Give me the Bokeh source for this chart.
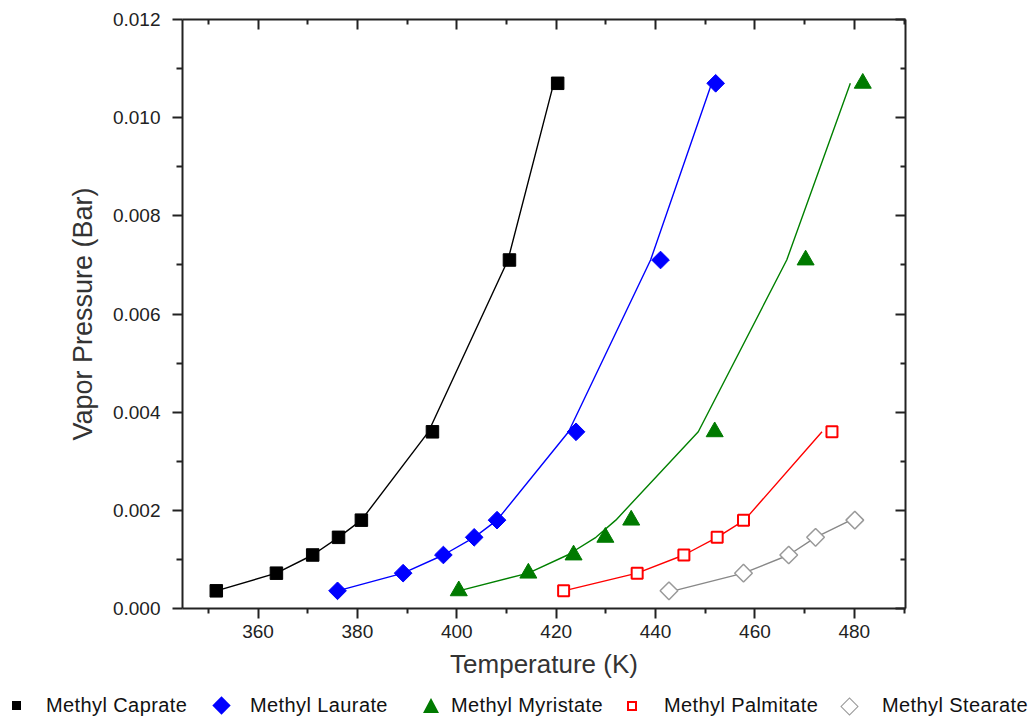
import math
from bokeh.plotting import figure
from bokeh.layouts import column
from bokeh.models import LinearAxis, Range1d, FixedTicker, CustomJSTickFormatter, Div
from bokeh.embed import file_html
from bokeh.resources import INLINE

# Data (Temperature K, Vapor pressure bar)
caprate_T = [351.6, 363.7, 371.0, 376.2, 380.8, 395.1, 410.6, 420.3]
caprate_P = [0.00036, 0.00072, 0.00109, 0.00145, 0.00180, 0.00360, 0.00710, 0.01070]
caprate_fit_T = [351.6, 363.7, 371.0, 376.2, 380.8, 394.3, 410.3, 419.5]

laurate_T = [376.0, 389.2, 397.3, 403.5, 408.1, 424.0, 441.0, 452.1]
laurate_P = [0.00036, 0.00072, 0.00109, 0.00145, 0.00180, 0.00360, 0.00710, 0.01070]
laurate_fit_T = [376.0, 389.2, 397.3, 403.5, 408.1, 422.5, 439.0, 451.3]

myristate_T = [400.4, 414.4, 423.5, 429.9, 435.1, 451.9, 470.2, 481.7]
myristate_P = [0.00036, 0.00072, 0.00109, 0.00145, 0.00180, 0.00360, 0.00710, 0.01070]
myristate_fit_T = [400.4, 414.4, 422.3, 428.0, 432.0, 448.6, 466.4, 479.2]

palmitate_T = [421.5, 436.3, 445.7, 452.4, 457.7, 475.5]
palmitate_P = [0.00036, 0.00072, 0.00109, 0.00145, 0.00180, 0.00360]
palmitate_fit_T = [421.5, 436.3, 445.7, 452.4, 457.9, 473.5]

stearate_T = [442.7, 457.7, 466.8, 472.2, 480.1]
stearate_P = [0.00036, 0.00072, 0.00109, 0.00145, 0.00180]
stearate_fit_T = [443.6, 457.7, 466.8, 472.2, 479.3]

series_names = ["Methyl Caprate", "Methyl Laurate", "Methyl Myristate",
                "Methyl Palmitate", "Methyl Stearate"]

x_ticks = [360, 380, 400, 420, 440, 460, 480]
y_ticks = [0.000, 0.002, 0.004, 0.006, 0.008, 0.010, 0.012]

FONT = "Liberation Sans"

p = figure(frame_width=723, frame_height=589, output_backend="svg", toolbar_location=None,
           x_range=Range1d(344.8, 490.3), y_range=Range1d(0, 0.012),
           min_border_left=182, min_border_right=127, min_border_top=19,
           min_border_bottom=80, x_axis_location=None, y_axis_location=None)
p.xgrid.visible = False
p.ygrid.visible = False
p.outline_line_color = None
p.background_fill_color = "white"
p.border_fill_color = "white"

def style_axis(ax, labels=True):
    ax.axis_line_width = 2
    ax.axis_line_color = "#222222"
    ax.major_tick_line_width = 2
    ax.minor_tick_line_width = 2
    ax.major_tick_line_color = "#222222"
    ax.minor_tick_line_color = "#222222"
    ax.major_label_text_font = FONT
    ax.major_label_text_font_size = "19px"
    ax.major_label_text_color = "#222222"
    ax.axis_label_text_font = FONT
    ax.axis_label_text_font_style = "normal"
    ax.axis_label_text_color = "#333333"
    if not labels:
        ax.major_label_text_font_size = "0px"
        ax.major_label_text_alpha = 0

xt = FixedTicker(ticks=x_ticks, minor_ticks=[350, 370, 390, 410, 430, 450, 470, 490])
yt = FixedTicker(ticks=y_ticks, minor_ticks=[0.001, 0.003, 0.005, 0.007, 0.009, 0.011])

xb = LinearAxis(ticker=xt, axis_label="Temperature (K)")
style_axis(xb)
xb.major_tick_out = 10; xb.major_tick_in = 0
xb.minor_tick_out = 5; xb.minor_tick_in = 0
xb.major_label_standoff = 6
xb.axis_label_standoff = 8
xb.axis_label_text_font_size = "26px"
p.add_layout(xb, "below")

yl = LinearAxis(ticker=yt, axis_label="Vapor Pressure (Bar)")
style_axis(yl)
yl.major_tick_out = 10; yl.major_tick_in = 0
yl.minor_tick_out = 6; yl.minor_tick_in = 0
yl.major_label_standoff = 12
yl.axis_label_standoff = 12
yl.axis_label_text_font_size = "27px"
yl.formatter = CustomJSTickFormatter(code="return tick.toFixed(3);")
p.add_layout(yl, "left")

xa = LinearAxis(ticker=xt)
style_axis(xa, labels=False)
xa.major_tick_out = 0; xa.major_tick_in = 10
xa.minor_tick_out = 0; xa.minor_tick_in = 5
xa.major_label_standoff = 0
p.add_layout(xa, "above")

yr = LinearAxis(ticker=yt)
style_axis(yr, labels=False)
yr.major_tick_out = 0; yr.major_tick_in = 10
yr.minor_tick_out = 0; yr.minor_tick_in = 5
yr.major_label_standoff = 0
p.add_layout(yr, "right")

# fit lines
p.line(caprate_fit_T, caprate_P, line_color="black", line_width=1.4)
p.line(laurate_fit_T, laurate_P, line_color="#0000ff", line_width=1.4)
p.line(myristate_fit_T, myristate_P, line_color="#008000", line_width=1.4)
p.line(palmitate_fit_T, palmitate_P, line_color="#ff0000", line_width=1.4)
p.line(stearate_fit_T, stearate_P, line_color="#888888", line_width=1.4)

# markers
styles = [
    dict(marker="square", size=12.5, angle=0, fill_color="black", line_color="black", line_width=1),
    dict(marker="square", size=12.5, angle=math.pi / 4, fill_color="#0000ff", line_color="#0000ff", line_width=1),
    dict(marker="triangle", size=17, angle=0, fill_color="#007a00", line_color="#007a00", line_width=1),
    dict(marker="square", size=11, angle=0, fill_color="white", line_color="#ff0000", line_width=2),
    dict(marker="square", size=12.5, angle=math.pi / 4, fill_color="white", line_color="#999999", line_width=1.5),
]
series_T = [caprate_T, laurate_T, myristate_T, palmitate_T, stearate_T]
series_P = [caprate_P, laurate_P, myristate_P, palmitate_P, stearate_P]
for T, P, st in zip(series_T, series_P, styles):
    p.scatter(T, P, **st)

# legend strip below the chart (HTML)
key_css = [
    "left:12px;top:13px;width:9px;height:9px;background:#000;",
    "left:215px;top:11px;width:13px;height:13px;background:#0000ff;transform:rotate(45deg);",
    "left:423px;top:10px;width:0;height:0;border-left:8px solid transparent;border-right:8px solid transparent;border-bottom:15px solid #007a00;",
    "left:627px;top:13px;width:6px;height:6px;background:#fff;border:2px solid #ff0000;",
    "left:843px;top:12px;width:11px;height:11px;background:#fff;border:1.5px solid #999999;transform:rotate(45deg);",
]
label_left = [46, 250, 451, 664, 882]
parts = ['<div style="position:relative;width:1032px;height:34px;background:#fff;">']
for css, name, lx in zip(key_css, series_names, label_left):
    parts.append('<span style="position:absolute;box-sizing:content-box;%s"></span>' % css)
    parts.append('<span style="position:absolute;left:%dpx;top:5px;font-family:\'%s\';font-size:20px;'
                 'letter-spacing:0.4px;color:#111;white-space:nowrap;line-height:24px;">%s</span>'
                 % (lx, FONT, name))
parts.append('</div>')
leg = Div(text="".join(parts), width=1032, height=34, margin=(0, 0, 0, 0))

layout = column(p, leg, spacing=0)
open("out.html", "w").write(file_html(layout, INLINE))
